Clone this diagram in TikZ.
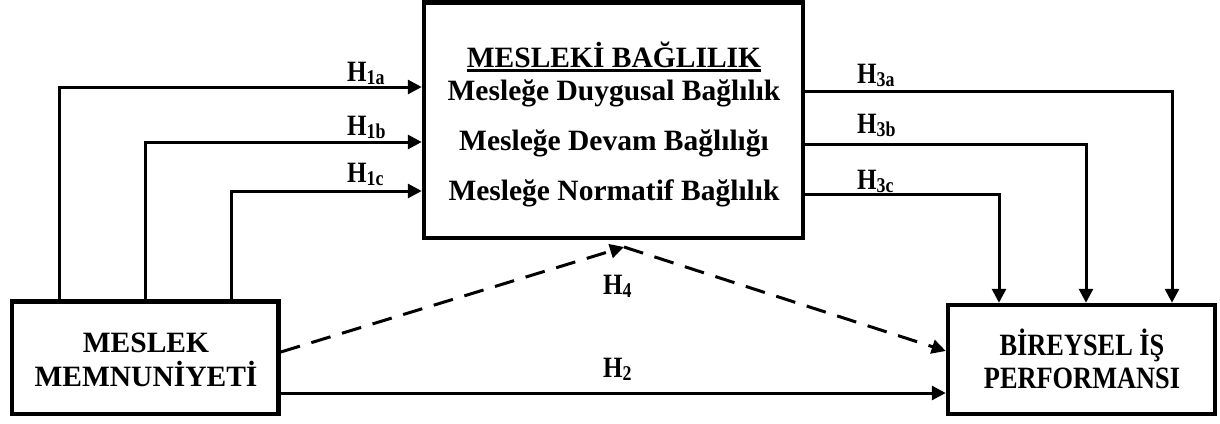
\documentclass[tikz,border=0pt]{standalone}
\usepackage{fontspec}
\setmainfont{Liberation Serif}
\newfontfamily\hfont[FakeStretch=0.85]{Liberation Serif}
\usetikzlibrary{arrows.meta}

\tikzset{
  box/.style={draw, line width=4.5pt, inner sep=0pt},
  link/.style={line width=3pt, -{Triangle[length=14pt,width=14pt]}},
  dashline/.style={dash pattern=on 20pt off 12pt},
  hyp/.style={font=\hfont\bfseries\fontsize{29.5}{30}\selectfont, inner sep=0pt, anchor=base west},
  ttl/.style={font=\bfseries\fontsize{29.5}{30}\selectfont, inner sep=0pt, anchor=base},
  ttlb/.style={font=\hfont\bfseries\fontsize{31}{32}\selectfont, inner sep=0pt, anchor=base},
}
\newcommand\hsub[1]{H\raisebox{-3pt}{\fontsize{21}{21}\selectfont #1}}

\begin{document}
\begin{tikzpicture}[x=1pt, y=-1pt]
  \useasboundingbox[fill=white] (0,0) rectangle (1220,423);

  % boxes
  \node[box, minimum width=379pt, minimum height=235.5pt] (mb) at (613.5,120) {};
  \node[box, minimum width=266.5pt, minimum height=112.5pt] (mm) at (145.25,357.75) {};
  \node[box, minimum width=267pt, minimum height=109pt] (bip) at (1081.5,359.5) {};

  % box texts
  \node[ttl] (t0) at (614,67) {MESLEKİ BAĞLILIK};
  \draw[line width=2.5pt] ([yshift=-3.5pt]t0.base west) -- ([yshift=-3.5pt]t0.base east);
  \node[ttl] (t1) at (614,100) {Mesleğe Duygusal Bağlılık};
  \node[ttl] (t2) at (614,150) {Mesleğe Devam Bağlılığı};
  \node[ttl] (t3) at (614,200) {Mesleğe Normatif Bağlılık};

  \node[ttl] (m1) at (146,352) {MESLEK};
  \node[ttl] (m2) at (146,386) {MEMNUNİYETİ};

  \node[ttlb] (b1) at (1082,355) {BİREYSEL İŞ};
  \node[ttlb] (b2) at (1082,388) {PERFORMANSI};

  % tap points
  \coordinate (s1) at (59,0);
  \coordinate (s2) at (145,0);
  \coordinate (s3) at (231,0);
  \coordinate (d1) at (1172,0);
  \coordinate (d2) at (1086,0);
  \coordinate (d3) at (999,0);
  \coordinate (apex) at (624,247);

  % H1 paths
  \draw[link] (mm.north -| s1) |- (mb.west |- 0,87);
  \draw[link] (mm.north -| s2) |- (mb.west |- 0,142);
  \draw[link] (mm.north -| s3) |- (mb.west |- 0,191);

  % H3 paths
  \draw[link] (mb.east |- 0,91) -| (bip.north -| d1);
  \draw[link] (mb.east |- 0,144) -| (bip.north -| d2);
  \draw[link] (mb.east |- 0,194) -| (bip.north -| d3);

  % H2 and H4
  \draw[link] (mm.east |- 0,393) -- (bip.west |- 0,393);
  \draw[link, dashline] (mm.east |- 0,352) -- (apex);
  \draw[link, dashline] (apex) -- (bip.west |- 0,351);

  % labels
  \node[hyp] (h1a) at (347,81) {\hsub{1a}};
  \node[hyp] (h1b) at (347,135) {\hsub{1b}};
  \node[hyp] (h1c) at (347,182) {\hsub{1c}};
  \node[hyp] (h3a) at (857,83) {\hsub{3a}};
  \node[hyp] (h3b) at (857,133) {\hsub{3b}};
  \node[hyp] (h3c) at (857,189) {\hsub{3c}};
  \node[hyp] (h4) at (603,294) {\hsub{4}};
  \node[hyp] (h2) at (603,377) {\hsub{2}};
\end{tikzpicture}
\end{document}
